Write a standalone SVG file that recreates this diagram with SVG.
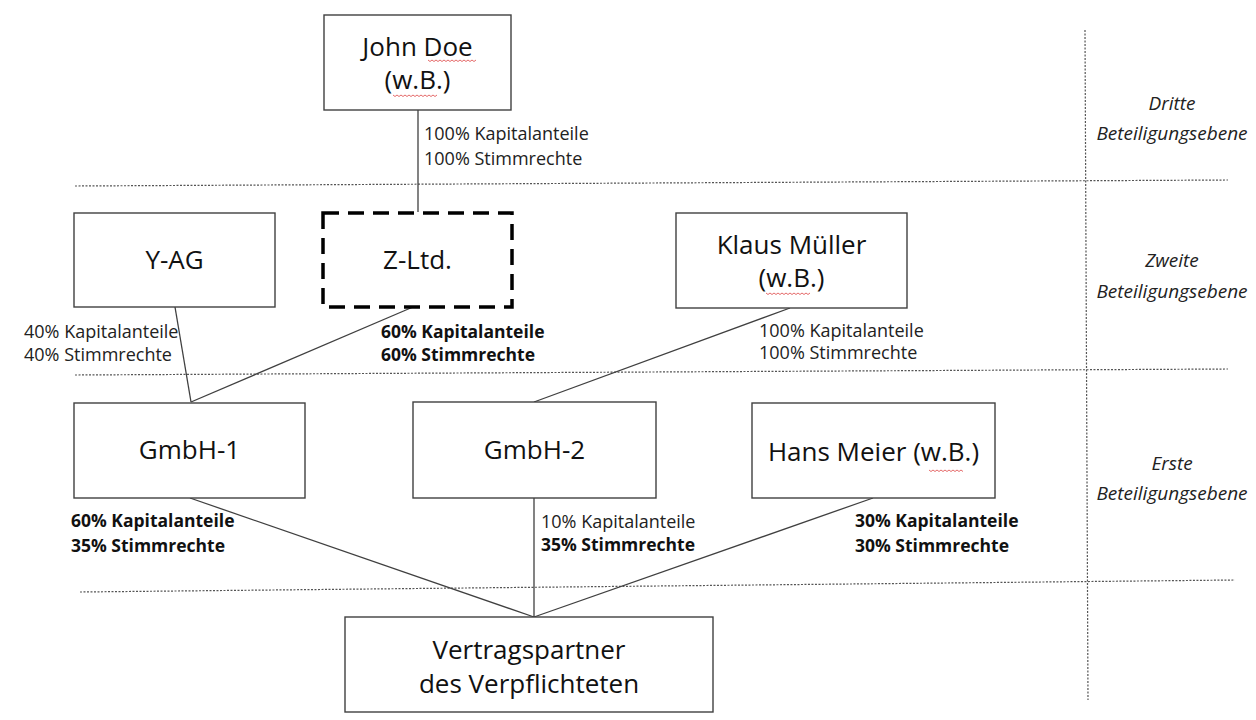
<svg xmlns="http://www.w3.org/2000/svg" width="1256" height="720" viewBox="0 0 1256 720">
<style>
.box{fill:#fff;stroke:#404040;stroke-width:1.4}
.dbox{fill:#fff;stroke:#000;stroke-width:3.5;stroke-dasharray:16 9}
.nt{font-family:"Open Sans","Noto Sans",sans-serif;font-size:26px;fill:#111;text-anchor:middle}
.lb{font-family:"Open Sans","Noto Sans",sans-serif;font-size:18px;fill:#222}
.lbb{font-family:"Open Sans","Noto Sans",sans-serif;font-size:17.5px;font-weight:bold;fill:#111}
.lv{font-family:"Open Sans","Noto Sans",sans-serif;font-size:19px;font-style:italic;fill:#222;text-anchor:middle}
.dot{stroke:#555;stroke-width:1.2;stroke-dasharray:2 1.5;fill:none}
.con{stroke:#404040;stroke-width:1.3;fill:none}
.sp{stroke:#d44;stroke-width:0.8;fill:none}
</style>
<rect width="1256" height="720" fill="#fff"/>
<g id="levels">
<line class="dot" x1="75" y1="186" x2="1228" y2="180"/>
<line class="dot" x1="75" y1="375" x2="1228" y2="369"/>
<line class="dot" x1="80" y1="592" x2="1235" y2="580"/>
<line class="dot" x1="1085" y1="30" x2="1088" y2="700"/>
<text class="lv" x="1172" y="110">Dritte</text>
<text class="lv" x="1172" y="140">Beteiligungsebene</text>
<text class="lv" x="1172" y="267">Zweite</text>
<text class="lv" x="1172" y="298">Beteiligungsebene</text>
<text class="lv" x="1172" y="470">Erste</text>
<text class="lv" x="1172" y="500">Beteiligungsebene</text>
</g>
<g id="connectors">
<line class="con" x1="418" y1="110" x2="418" y2="212"/>
<line class="con" x1="175" y1="307" x2="191" y2="402"/>
<line class="con" x1="413" y1="307" x2="191" y2="402"/>
<line class="con" x1="790" y1="308" x2="534" y2="402"/>
<line class="con" x1="190" y1="498" x2="534" y2="617"/>
<line class="con" x1="534" y1="498" x2="534" y2="617"/>
<line class="con" x1="873" y1="498" x2="534" y2="617"/>
</g>
<g id="john-doe">
<rect class="box" x="324" y="15" width="187" height="95"/>
<text class="nt" x="417.5" y="56">John Doe</text>
<text class="nt" x="417.5" y="89">(w.B.)</text>
<path class="sp" d="M428 60l2 1.5 2-1.5 2 1.5 2-1.5 2 1.5 2-1.5 2 1.5 2-1.5 2 1.5 2-1.5 2 1.5 2-1.5 2 1.5 2-1.5 2 1.5 2-1.5 2 1.5 2-1.5 2 1.5 2-1.5 2 1.5 2-1.5 2 1.5 2-1.5"/>
<path class="sp" d="M393 95l2 1.5 2-1.5 2 1.5 2-1.5 2 1.5 2-1.5 2 1.5 2-1.5 2 1.5 2-1.5 2 1.5 2-1.5 2 1.5 2-1.5 2 1.5 2-1.5 2 1.5 2-1.5 2 1.5 2-1.5 2 1.5 2-1.5"/>
</g>
<g id="label-john">
<text class="lb" x="424" y="140">100% Kapitalanteile</text>
<text class="lb" x="424" y="165">100% Stimmrechte</text>
</g>
<g id="y-ag">
<rect class="box" x="74" y="213" width="201" height="94"/>
<text class="nt" x="174.5" y="269">Y-AG</text>
</g>
<g id="z-ltd">
<rect class="dbox" x="323" y="213" width="189" height="94"/>
<text class="nt" x="417.5" y="269">Z-Ltd.</text>
</g>
<g id="klaus-mueller">
<rect class="box" x="676" y="213" width="231" height="95"/>
<text class="nt" x="791.5" y="254">Klaus Müller</text>
<text class="nt" x="791.5" y="287">(w.B.)</text>
<path class="sp" d="M766 293l2 1.5 2-1.5 2 1.5 2-1.5 2 1.5 2-1.5 2 1.5 2-1.5 2 1.5 2-1.5 2 1.5 2-1.5 2 1.5 2-1.5 2 1.5 2-1.5 2 1.5 2-1.5 2 1.5 2-1.5 2 1.5 2-1.5"/>
</g>
<g id="label-yag">
<text class="lb" x="24" y="338">40% Kapitalanteile</text>
<text class="lb" x="24" y="361">40% Stimmrechte</text>
</g>
<g id="label-zltd">
<text class="lbb" x="381" y="338">60% Kapitalanteile</text>
<text class="lbb" x="381" y="361">60% Stimmrechte</text>
</g>
<g id="label-klaus">
<text class="lb" x="759" y="337">100% Kapitalanteile</text>
<text class="lb" x="759" y="359">100% Stimmrechte</text>
</g>
<g id="gmbh-1">
<rect class="box" x="74" y="403" width="231" height="95"/>
<text class="nt" x="189.5" y="459">GmbH-1</text>
</g>
<g id="gmbh-2">
<rect class="box" x="413" y="402" width="243" height="96"/>
<text class="nt" x="534.5" y="459">GmbH-2</text>
</g>
<g id="hans-meier">
<rect class="box" x="752" y="403" width="243" height="95"/>
<text class="nt" x="873.5" y="461">Hans Meier (w.B.)</text>
<path class="sp" d="M929 470l2 1.5 2-1.5 2 1.5 2-1.5 2 1.5 2-1.5 2 1.5 2-1.5 2 1.5 2-1.5 2 1.5 2-1.5 2 1.5 2-1.5 2 1.5 2-1.5 2 1.5"/>
</g>
<g id="label-gmbh1">
<text class="lbb" x="71" y="527">60% Kapitalanteile</text>
<text class="lbb" x="71" y="552">35% Stimmrechte</text>
</g>
<g id="label-gmbh2">
<text class="lb" x="541" y="528">10% Kapitalanteile</text>
<text class="lbb" x="541" y="551">35% Stimmrechte</text>
</g>
<g id="label-hans">
<text class="lbb" x="855" y="527">30% Kapitalanteile</text>
<text class="lbb" x="855" y="552">30% Stimmrechte</text>
</g>
<g id="vertragspartner">
<rect class="box" x="345" y="617" width="368" height="95"/>
<text class="nt" x="529" y="659">Vertragspartner</text>
<text class="nt" x="529" y="693">des Verpflichteten</text>
</g>
</svg>
